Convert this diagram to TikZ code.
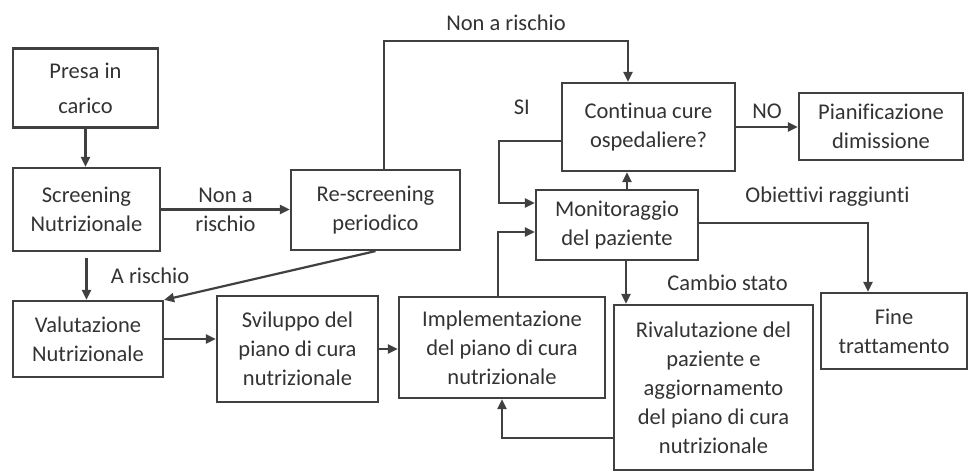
\documentclass[tikz,border=0pt]{standalone}
\usepackage{fontspec}
\setmainfont{Carlito}[Ligatures=NoCommon]
\usepackage{tikz}
\usetikzlibrary{positioning, arrows.meta}
\tikzstyle{box} = [rectangle, draw=black!75, line width=2.2pt, text=black!80, align=center, inner sep=0pt]
\tikzstyle{arrow} = [line width=2.2pt, draw=black!75, -{Triangle[length=10pt,width=9pt]}]
\tikzstyle{lbl} = [text=black!80, align=center]
\begin{document}
\begin{tikzpicture}[node distance=120pt, x=1pt, y=1pt, every node/.style={font=\fontsize{22.5}{29}\selectfont}]
\useasboundingbox (0,0) rectangle (969,472);

\node (presa) [box, minimum width=145pt, minimum height=79pt] at (85.5,384) {Presa in\\[6pt]carico};
\node (screen) [box, below of=presa, xshift=1pt, yshift=-1.5pt, minimum width=147pt, minimum height=83pt] {Screening\\Nutrizionale};
\node (valut) [box, below of=screen, xshift=1.5pt, yshift=-9.5pt, minimum width=150pt, minimum height=76pt] {Valutazione\\Nutrizionale};
\node (svil) [box, right of=valut, xshift=89.5pt, yshift=-10pt, minimum width=161pt, minimum height=106pt] {Sviluppo del\\piano di cura\\nutrizionale};
\node (impl) [box, right of=svil, xshift=84.5pt, yshift=1.5pt, minimum width=206pt, minimum height=101pt] {Implementazione\\del piano di cura\\nutrizionale};
\node (rival) [box, right of=impl, xshift=91.5pt, yshift=-40pt, minimum width=199pt, minimum height=165pt] {Rivalutazione del\\paziente e\\aggiornamento\\del piano di cura\\nutrizionale};
\node (monit) [box, above of=impl, xshift=115pt, yshift=2.5pt, minimum width=162pt, minimum height=70pt] {Monitoraggio\\del paziente};
\node (cont) [box, above of=monit, xshift=31.5pt, yshift=-22pt, minimum width=173pt, minimum height=88pt] {Continua cure\\ospedaliere?};
\node (pian) [box, right of=cont, xshift=112.5pt, yshift=0.5pt, minimum width=164pt, minimum height=67pt] {Pianificazione\\dimissione};
\node (fine) [box, below of=pian, xshift=13pt, yshift=-84.5pt, minimum width=146pt, minimum height=76pt] {Fine\\trattamento};
\node (resc) [box, right of=screen, xshift=169pt, yshift=-0.5pt, minimum width=169pt, minimum height=80pt] {Re-screening\\periodico};

% screening
\draw [arrow] (presa.south) -- (presa.south |- screen.north);
\draw [arrow] (screen.east) -- node[lbl] {Non a\\rischio} (screen.east -| resc.west);
\draw [arrow, shorten <=6pt] (screen.south) -- node[lbl, anchor=west, xshift=20pt] {A rischio} (screen.south |- valut.north);
\draw [arrow] (resc.south) -- (valut.north east);
\draw [arrow] ([xshift=8.5pt]resc.north) -- ++(0,128) -| node[lbl, pos=0.25, above, yshift=6pt] {Non a rischio} ([xshift=-20.5pt]cont.north);

% piano di cura
\draw [arrow] (valut.east) -- (valut.east -| svil.west);
\draw [arrow] (svil.east) -- (svil.east -| impl.west);
\draw [arrow] ([xshift=-4pt]impl.north) |- ([yshift=-7pt]monit.west);
\draw [arrow] ([yshift=-50.5pt]rival.west) -| (impl.south);

% monitoraggio
\draw [arrow] ([xshift=10pt]monit.north) -- ([xshift=10pt]monit.north |- cont.south);
\draw [arrow] ([yshift=-14pt]cont.west) -- ++(-62,0) node[lbl, xshift=23pt, yshift=34pt] {SI} |- ([yshift=22pt]monit.west);
\draw [arrow] (cont.east) -- node[lbl, above, yshift=4pt] {NO} (cont.east -| pian.west);
\draw [arrow] ([yshift=2pt]monit.east) -| node[lbl, pos=0.38, yshift=26pt] {Obiettivi raggiunti} ([xshift=-26pt]fine.north);
\draw [arrow] ([xshift=9pt]monit.south) -- node[lbl, anchor=west, xshift=37pt] {Cambio stato} ([xshift=9pt]monit.south |- rival.north);
\end{tikzpicture}
\end{document}
